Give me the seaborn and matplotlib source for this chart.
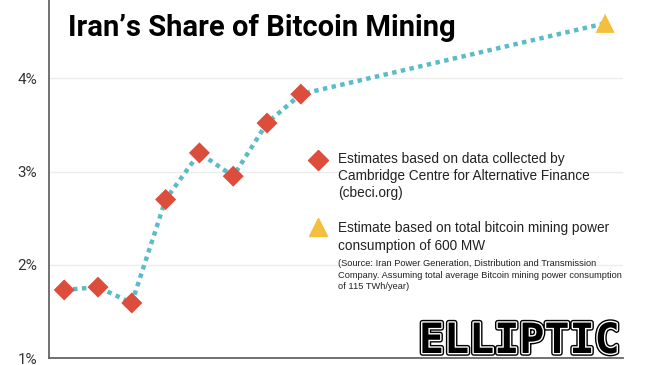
import pandas as pd
import seaborn as sns
import matplotlib.pyplot as plt
import matplotlib.patheffects as pe

# monthly index (0 = first Cambridge estimate), share of global hashrate in %
cbeci_month = [0, 1, 2, 3, 4, 5, 6, 7]
cbeci_share = [1.73, 1.76, 1.59, 2.70, 3.20, 2.95, 3.52, 3.83]
power_month = [16]
power_share = [4.59]
tick_months = [1, 4, 7, 10, 13, 16]
y_ticks = [1, 2, 3, 4]
y_labels = ["1%", "2%", "3%", "4%"]

red = "#dc4d3b"
teal = "#5bbcc8"
yellow = "#f3bf3c"

sns.set_theme(style="white")
plt.rcParams["font.family"] = ["Liberation Sans", "DejaVu Sans"]

cbeci = pd.DataFrame({"month": cbeci_month, "share": cbeci_share})
power = pd.DataFrame({"month": power_month, "share": power_share})
line = pd.concat([cbeci, power], ignore_index=True)

fig = plt.figure(figsize=(6.5, 3.65), dpi=100)
ax = fig.add_axes([49 / 650, 7 / 365, (623 - 49) / 650, 358 / 365])

sns.lineplot(data=line, x="month", y="share", color=teal, lw=3.2,
             linestyle=(0, (1, 1)), ax=ax, zorder=2)
sns.scatterplot(data=cbeci, x="month", y="share", marker="D", s=115,
                color=red, edgecolor="none", ax=ax, zorder=3)
sns.scatterplot(data=power, x="month", y="share", marker="^", s=190,
                color=yellow, edgecolor="none", ax=ax, zorder=3)

ax.set_xlim(-0.45, 16.53)
ax.set_ylim(1, 4.84)
ax.set_xticks(tick_months)
ax.set_xticklabels([])
ax.set_yticks(y_ticks)
ax.set_yticklabels(y_labels, fontfamily=["Roboto", "DejaVu Sans"])
ax.set_xlabel("")
ax.set_ylabel("")
ax.yaxis.grid(True, color="#ececec", lw=1)
ax.set_axisbelow(True)
for s in ["top", "right"]:
    ax.spines[s].set_visible(False)
for s in ["left", "bottom"]:
    ax.spines[s].set_color("#666666")
    ax.spines[s].set_linewidth(1.3)
ax.tick_params(axis="y", direction="inout", length=9, width=1.3,
               color="#555555", labelsize=11, labelcolor="#333333", pad=4)
ax.tick_params(axis="x", direction="inout", length=10, width=1.3,
               color="#555555")

fig.text(68 / 650, 1 - 36 / 365, "Iran\u2019s Share of Bitcoin Mining",
         fontsize=21, fontweight="bold",
         family=["Roboto", "DejaVu Sans"],
         color="black", va="baseline", ha="left")

# legend
ax.plot([318 / 650], [1 - 160 / 365], marker="D", ms=10.5, color=red,
        ls="none", transform=fig.transFigure, clip_on=False)
ax.plot([318 / 650], [1 - 227 / 365], marker="^", ms=13, color=yellow,
        ls="none", transform=fig.transFigure, clip_on=False)
fig.text(338 / 650, 1 - 176 / 365,
         "Estimates based on data collected by\n"
         "Cambridge Centre for Alternative Finance\n(cbeci.org)",
         fontsize=9.8, color="#222222", va="center", ha="left",
         linespacing=1.3)
fig.text(338 / 650, 1 - 237 / 365,
         "Estimate based on total bitcoin mining power\n"
         "consumption of 600 MW",
         fontsize=9.8, color="#222222", va="center", ha="left",
         linespacing=1.3)
fig.text(338 / 650, 1 - 275 / 365,
         "(Source: Iran Power Generation, Distribution and Transmission\n"
         "Company. Assuming total average Bitcoin mining power consumption\n"
         "of 115 TWh/year)",
         fontsize=6.7, color="#222222", va="center", ha="left",
         linespacing=1.3)

# logo
fig.text(519 / 650, 1 - 341 / 365, "ELLIPTIC", fontsize=30,
         fontweight="bold", family=["DejaVu Sans Mono"], color="black",
         ha="center", va="center",
         path_effects=[pe.Stroke(linewidth=4, foreground="black"),
                       pe.Stroke(linewidth=2, foreground="white"),
                       pe.Normal()])

fig.savefig("out.png", dpi=100)
